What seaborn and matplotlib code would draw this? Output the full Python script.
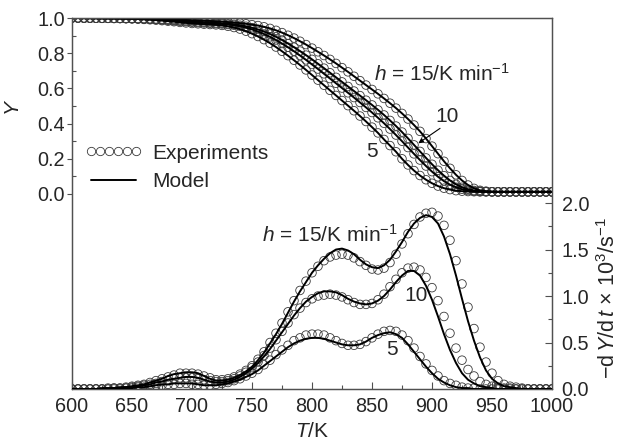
import numpy as np
import pandas as pd
import matplotlib
matplotlib.use("Agg")
import matplotlib.pyplot as plt
import seaborn as sns
from matplotlib.lines import Line2D
from matplotlib.ticker import MultipleLocator

# ---------------- data ----------------
T = list(range(600, 1001, 5))  # temperature grid, K

# conversion Y (top panel), four heating rates
Y_5 = [1.000, 1.000, 0.999, 0.999, 0.999, 0.998, 0.998, 0.997, 0.997, 0.996,
       0.995, 0.994, 0.992, 0.990, 0.988, 0.985, 0.982, 0.979, 0.975, 0.972,
       0.969, 0.967, 0.965, 0.963, 0.961, 0.958, 0.953, 0.946, 0.937, 0.925,
       0.911, 0.895, 0.877, 0.857, 0.835, 0.811, 0.786, 0.760, 0.733, 0.705,
       0.676, 0.647, 0.618, 0.589, 0.560, 0.531, 0.502, 0.473, 0.443, 0.412,
       0.380, 0.347, 0.310, 0.275, 0.240, 0.200, 0.165, 0.133, 0.105, 0.081,
       0.061, 0.045, 0.033, 0.025, 0.019, 0.016, 0.014, 0.013, 0.012, 0.012,
       0.012, 0.012, 0.012, 0.012, 0.012, 0.012, 0.012, 0.012, 0.012, 0.012,
       0.012]
Y_75 = [1.000, 1.000, 0.999, 0.999, 0.999, 0.998, 0.998, 0.998, 0.997, 0.997,
        0.996, 0.995, 0.994, 0.993, 0.991, 0.989, 0.987, 0.984, 0.981, 0.979,
        0.976, 0.974, 0.972, 0.970, 0.968, 0.966, 0.963, 0.959, 0.953, 0.945,
        0.935, 0.923, 0.909, 0.893, 0.875, 0.855, 0.834, 0.811, 0.787, 0.762,
        0.736, 0.710, 0.683, 0.656, 0.629, 0.602, 0.575, 0.548, 0.520, 0.492,
        0.463, 0.433, 0.402, 0.369, 0.335, 0.300, 0.264, 0.228, 0.193, 0.159,
        0.127, 0.098, 0.073, 0.053, 0.038, 0.027, 0.020, 0.016, 0.014, 0.013,
        0.012, 0.012, 0.012, 0.012, 0.012, 0.012, 0.012, 0.012, 0.012, 0.012,
        0.012]
Y_10 = [1.000, 1.000, 1.000, 0.999, 0.999, 0.999, 0.998, 0.998, 0.998, 0.997,
        0.997, 0.996, 0.995, 0.994, 0.993, 0.991, 0.989, 0.987, 0.985, 0.983,
        0.980, 0.978, 0.976, 0.974, 0.972, 0.970, 0.967, 0.964, 0.959, 0.953,
        0.945, 0.935, 0.923, 0.909, 0.893, 0.875, 0.855, 0.834, 0.812, 0.789,
        0.765, 0.740, 0.715, 0.689, 0.663, 0.637, 0.611, 0.585, 0.559, 0.533,
        0.506, 0.478, 0.449, 0.418, 0.386, 0.352, 0.316, 0.279, 0.242, 0.205,
        0.169, 0.135, 0.104, 0.077, 0.055, 0.038, 0.027, 0.020, 0.016, 0.014,
        0.013, 0.012, 0.012, 0.012, 0.012, 0.012, 0.012, 0.012, 0.012, 0.012,
        0.012]
Y_15 = [1.000, 1.000, 1.000, 1.000, 0.999, 0.999, 0.999, 0.999, 0.998, 0.998,
        0.998, 0.997, 0.997, 0.996, 0.995, 0.994, 0.993, 0.992, 0.990, 0.989,
        0.987, 0.986, 0.984, 0.983, 0.981, 0.979, 0.977, 0.974, 0.971, 0.967,
        0.962, 0.957, 0.950, 0.941, 0.930, 0.917, 0.902, 0.886, 0.868, 0.849,
        0.829, 0.808, 0.787, 0.765, 0.742, 0.718, 0.694, 0.669, 0.644, 0.619,
        0.594, 0.569, 0.543, 0.516, 0.488, 0.458, 0.426, 0.392, 0.356, 0.315,
        0.272, 0.229, 0.186, 0.146, 0.109, 0.077, 0.051, 0.032, 0.021, 0.016,
        0.013, 0.012, 0.012, 0.012, 0.012, 0.012, 0.012, 0.012, 0.012, 0.012,
        0.012]

# rate -dY/dt x 10^3 (bottom panel): experiments and model
E_15 = [0.00, 0.00, 0.00, 0.00, 0.00, 0.00, 0.01, 0.01, 0.01, 0.02,
        0.03, 0.04, 0.05, 0.07, 0.09, 0.11, 0.13, 0.15, 0.17, 0.17,
        0.17, 0.16, 0.14, 0.12, 0.10, 0.10, 0.11, 0.13, 0.16, 0.20,
        0.25, 0.32, 0.40, 0.50, 0.60, 0.71, 0.83, 0.95, 1.06, 1.16,
        1.25, 1.32, 1.38, 1.42, 1.44, 1.45, 1.44, 1.41, 1.37, 1.33,
        1.29, 1.28, 1.30, 1.36, 1.45, 1.56, 1.67, 1.77, 1.85, 1.89,
        1.90, 1.86, 1.76, 1.60, 1.38, 1.13, 0.88, 0.65, 0.45, 0.29,
        0.17, 0.09, 0.05, 0.03, 0.02, 0.01, 0.00, 0.00, 0.00, 0.00,
        0.00]
M_15 = [0.00, 0.00, 0.00, 0.00, 0.00, 0.01, 0.01, 0.01, 0.02, 0.02,
        0.03, 0.04, 0.05, 0.07, 0.09, 0.11, 0.14, 0.16, 0.17, 0.18,
        0.18, 0.17, 0.14, 0.11, 0.09, 0.09, 0.10, 0.12, 0.15, 0.19,
        0.24, 0.31, 0.39, 0.49, 0.59, 0.70, 0.82, 0.94, 1.05, 1.15,
        1.25, 1.33, 1.40, 1.46, 1.50, 1.51, 1.49, 1.45, 1.39, 1.34,
        1.31, 1.30, 1.33, 1.39, 1.48, 1.58, 1.69, 1.78, 1.84, 1.87,
        1.85, 1.78, 1.64, 1.45, 1.22, 0.97, 0.73, 0.52, 0.34, 0.20,
        0.11, 0.06, 0.03, 0.02, 0.01, 0.00, 0.00, 0.00, 0.00, 0.00,
        0.00]
E_10 = [0.00, 0.00, 0.00, 0.00, 0.00, 0.00, 0.00, 0.01, 0.01, 0.01,
        0.02, 0.03, 0.04, 0.05, 0.06, 0.08, 0.09, 0.11, 0.12, 0.12,
        0.12, 0.11, 0.10, 0.09, 0.08, 0.08, 0.09, 0.11, 0.14, 0.18,
        0.23, 0.29, 0.36, 0.44, 0.53, 0.62, 0.71, 0.80, 0.87, 0.93,
        0.97, 1.00, 1.01, 1.02, 1.01, 0.99, 0.96, 0.93, 0.91, 0.91,
        0.92, 0.96, 1.02, 1.10, 1.18, 1.25, 1.30, 1.31, 1.28, 1.20,
        1.09, 0.95, 0.78, 0.60, 0.44, 0.31, 0.21, 0.14, 0.08, 0.05,
        0.03, 0.02, 0.01, 0.01, 0.00, 0.00, 0.00, 0.00, 0.00, 0.00,
        0.00]
M_10 = [0.00, 0.00, 0.00, 0.00, 0.00, 0.00, 0.01, 0.01, 0.01, 0.02,
        0.02, 0.03, 0.04, 0.05, 0.07, 0.08, 0.10, 0.11, 0.12, 0.13,
        0.13, 0.12, 0.10, 0.08, 0.07, 0.07, 0.08, 0.10, 0.13, 0.17,
        0.22, 0.28, 0.35, 0.43, 0.52, 0.61, 0.70, 0.79, 0.87, 0.94,
        0.99, 1.03, 1.05, 1.05, 1.04, 1.01, 0.97, 0.94, 0.92, 0.91,
        0.92, 0.95, 1.00, 1.07, 1.15, 1.22, 1.27, 1.27, 1.22, 1.11,
        0.96, 0.78, 0.59, 0.42, 0.28, 0.17, 0.10, 0.06, 0.03, 0.02,
        0.01, 0.00, 0.00, 0.00, 0.00, 0.00, 0.00, 0.00, 0.00, 0.00,
        0.00]
E_5 = [0.00, 0.00, 0.00, 0.00, 0.00, 0.00, 0.00, 0.00, 0.00, 0.01,
       0.01, 0.02, 0.02, 0.03, 0.04, 0.04, 0.05, 0.05, 0.06, 0.06,
       0.05, 0.05, 0.04, 0.04, 0.05, 0.06, 0.07, 0.09, 0.11, 0.14,
       0.17, 0.21, 0.26, 0.31, 0.37, 0.42, 0.47, 0.52, 0.55, 0.58,
       0.59, 0.59, 0.58, 0.55, 0.52, 0.49, 0.47, 0.47, 0.48, 0.51,
       0.55, 0.59, 0.62, 0.63, 0.62, 0.58, 0.52, 0.44, 0.35, 0.27,
       0.20, 0.14, 0.09, 0.06, 0.04, 0.02, 0.01, 0.01, 0.00, 0.00,
       0.00, 0.00, 0.00, 0.00, 0.00, 0.00, 0.00, 0.00, 0.00, 0.00,
       0.00]
M_5 = [0.00, 0.00, 0.00, 0.00, 0.00, 0.00, 0.00, 0.00, 0.01, 0.01,
       0.01, 0.02, 0.02, 0.03, 0.04, 0.05, 0.05, 0.06, 0.06, 0.06,
       0.06, 0.05, 0.04, 0.04, 0.04, 0.05, 0.06, 0.08, 0.10, 0.13,
       0.16, 0.20, 0.25, 0.30, 0.35, 0.40, 0.45, 0.49, 0.52, 0.54,
       0.55, 0.55, 0.54, 0.52, 0.50, 0.48, 0.47, 0.47, 0.48, 0.51,
       0.55, 0.58, 0.60, 0.61, 0.59, 0.55, 0.48, 0.40, 0.32, 0.24,
       0.17, 0.11, 0.07, 0.04, 0.02, 0.01, 0.01, 0.00, 0.00, 0.00,
       0.00, 0.00, 0.00, 0.00, 0.00, 0.00, 0.00, 0.00, 0.00, 0.00,
       0.00]

Y_series = [Y_5, Y_75, Y_10, Y_15]
rate_series = [(E_15, M_15), (E_10, M_10), (E_5, M_5)]
for s in Y_series + [a for p in rate_series for a in p]:
    assert len(s) == len(T)

# ---------------- style ----------------
sns.set_style("ticks")
plt.rcParams["font.family"] = ["Liberation Sans", "DejaVu Sans"]
plt.rcParams["mathtext.fontset"] = "custom"
plt.rcParams["mathtext.rm"] = "Liberation Sans"
plt.rcParams["mathtext.it"] = "Liberation Sans:italic"
plt.rcParams["mathtext.sf"] = "Liberation Sans"
FS_TICK = 14.3
FS = 15
EDGE = "#3a3a3a"
SPINE = "#505050"

fig = plt.figure(figsize=(6.23, 4.46), dpi=100)
ax = fig.add_axes([72 / 623, 57 / 446, 480 / 623, 371 / 446])
ax.set_xlim(600, 1000)
ax.set_ylim(-1.108, 1.0)
ax2 = ax.twinx()
ax2.set_ylim(0, 3.99)


def draw(axis, y_exp, y_mod):
    sns.scatterplot(x=T, y=y_exp, ax=axis, marker="o", s=38, legend=False,
                    zorder=2)
    coll = axis.collections[-1]
    coll.set_facecolor("none")
    coll.set_edgecolor(EDGE)
    coll.set_linewidth(0.6)
    sns.lineplot(x=T, y=y_mod, ax=axis, color="black", lw=1.4, zorder=3)


for Ys in Y_series:
    draw(ax, Ys, Ys)
for e, m in rate_series:
    draw(ax2, e, m)

# spines
for a in (ax, ax2):
    for sp in a.spines.values():
        sp.set_visible(True)
        sp.set_color(SPINE)
        sp.set_linewidth(0.9)

# ticks
ax.set_xticks(list(range(600, 1001, 50)))
ax.xaxis.set_minor_locator(MultipleLocator(25))
ax.set_yticks([0.0, 0.2, 0.4, 0.6, 0.8, 1.0])
ax.set_yticks([0.1, 0.3, 0.5, 0.7, 0.9], minor=True)
ax.set_yticklabels(["0.0", "0.2", "0.4", "0.6", "0.8", "1.0"])
ax.tick_params(axis="y", which="major", direction="out", length=3.5, width=0.8,
               pad=1.5, labelsize=FS_TICK, color=SPINE)
ax.tick_params(axis="y", which="minor", direction="in", length=3, width=0.8, color=SPINE)
ax.tick_params(axis="x", which="major", direction="in", length=5, width=0.8,
               pad=6, labelsize=FS_TICK, color=SPINE, top=False)
ax.tick_params(axis="x", which="minor", direction="in", length=3, width=0.8,
               color=SPINE, top=False)

ax2.set_yticks([0.0, 0.5, 1.0, 1.5, 2.0])
ax2.set_yticks([0.25, 0.75, 1.25, 1.75], minor=True)
ax2.set_yticklabels(["0.0", "0.5", "1.0", "1.5", "2.0"])
ax2.tick_params(axis="y", which="major", direction="in", length=5, width=0.8,
                pad=7, labelsize=FS_TICK, color=SPINE)
ax2.tick_params(axis="y", which="minor", direction="in", length=3, width=0.8, color=SPINE)

# labels
ax.set_xlabel("$T$/K", fontsize=FS)
ax.xaxis.set_label_coords(0.5, -0.090)
ax.set_ylabel("$Y$", fontsize=FS)
ax.yaxis.set_label_coords(-0.102, 0.76)
ax2.set_ylabel(r"$-\mathrm{d}\,Y/\mathrm{d}\,t$ × 10$^{3}$/s$^{-1}$", fontsize=15.5)
ax2.yaxis.set_label_coords(1.093, 0.245)

# annotations (top panel, Y axis)
ax.text(908, 0.68, r"$h$ = 15/K min$^{-1}$", fontsize=FS, ha="center", va="center")
ax.text(912.5, 0.44, "10", fontsize=FS, ha="center", va="center")
ax.text(850, 0.24, "5", fontsize=FS, ha="center", va="center")
ax.annotate("", xy=(888.6, 0.288), xytext=(906.7, 0.373),
            arrowprops=dict(arrowstyle="-|>", lw=0.8, color="black",
                            mutation_scale=7, shrinkA=0, shrinkB=0))

# annotations (bottom panel, rate axis)
ax2.text(815, 1.66, r"$h$ = 15/K min$^{-1}$", fontsize=FS, ha="center", va="center")
ax2.text(887, 1.01, "10", fontsize=FS, ha="center", va="center")
ax2.text(867, 0.42, "5", fontsize=FS, ha="center", va="center")

# legend
handles = [Line2D([], [], marker="o", ls="", mfc="none", mec=EDGE, mew=0.6, ms=6.0),
           Line2D([], [], color="black", lw=1.4)]
ax.legend(handles, ["Experiments", "Model"], loc="upper left",
          bbox_to_anchor=(0.027, 0.661), frameon=False, fontsize=FS,
          numpoints=6, handlelength=2.75, handletextpad=0.48, labelspacing=0.45,
          borderpad=0, borderaxespad=0)

fig.savefig("out.png", dpi=100)
